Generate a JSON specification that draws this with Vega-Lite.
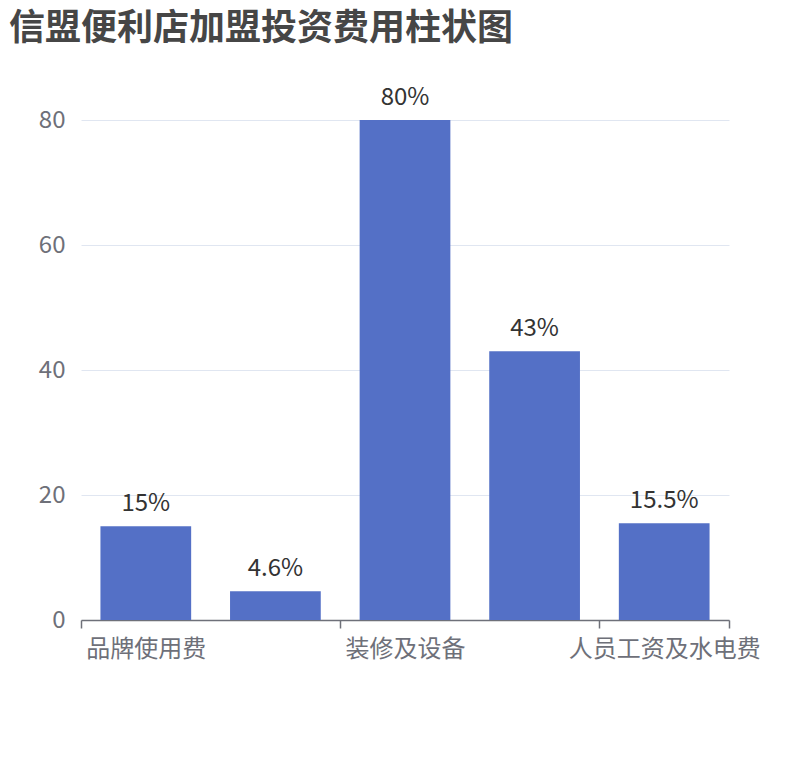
{
  "$schema": "https://vega.github.io/schema/vega-lite/v6.json",
  "description": "信盟便利店加盟投资费用柱状图",
  "width": 648,
  "height": 500,
  "autosize": {"type": "none"},
  "padding": {"left": 81, "top": 120, "right": 81, "bottom": 140},
  "background": "#ffffff",
  "title": {
    "text": "信盟便利店加盟投资费用柱状图",
    "anchor": "start",
    "frame": "group",
    "dx": -72,
    "offset": 38,
    "fontSize": 36,
    "fontWeight": "bold",
    "color": "#464646"
  },
  "data": {
    "values": [
      {"item": "品牌使用费", "value": 15},
      {"item": "加盟保证金", "value": 4.6},
      {"item": "装修及设备", "value": 80},
      {"item": "店铺租金", "value": 43},
      {"item": "人员工资及水电费", "value": 15.5}
    ]
  },
  "transform": [{"calculate": "datum.value + '%'", "as": "label"}],
  "encoding": {
    "x": {
      "field": "item",
      "type": "nominal",
      "sort": null,
      "title": null,
      "scale": {"paddingInner": 0, "paddingOuter": 0},
      "axis": {
        "labelExpr": "indexof(['品牌使用费', '装修及设备', '人员工资及水电费'], datum.value) >= 0 ? datum.label : ''",
        "labelAngle": 0,
        "labelFontSize": 24,
        "labelColor": "#6e7079",
        "labelPadding": 9,
        "labelLimit": 0,
        "labelOverlap": false,
        "ticks": true,
        "tickBand": "extent",
        "tickSize": 8,
        "tickWidth": 1.5,
        "tickColor": "#6e7079",
        "tickOpacity": {
          "condition": {
            "test": "datum.extra || indexof(['加盟保证金', '店铺租金', '人员工资及水电费'], datum.value) >= 0",
            "value": 1
          },
          "value": 0
        },
        "domainColor": "#6e7079",
        "domainWidth": 1.5,
        "grid": false
      }
    },
    "y": {
      "field": "value",
      "type": "quantitative",
      "title": null,
      "scale": {"domain": [0, 80], "nice": false},
      "axis": {
        "values": [0, 20, 40, 60, 80],
        "labelFontSize": 24,
        "labelColor": "#6e7079",
        "labelPadding": 16,
        "ticks": false,
        "domain": false,
        "gridColor": "#e0e6f1"
      }
    }
  },
  "layer": [
    {"mark": {"type": "bar", "color": "#5470c6", "width": {"band": 0.7}}},
    {
      "mark": {"type": "text", "baseline": "bottom", "dy": -10, "fontSize": 24, "color": "#333333"},
      "encoding": {"text": {"field": "label"}}
    }
  ],
  "config": {
    "font": "Noto Sans CJK SC",
    "view": {"stroke": null}
  }
}
